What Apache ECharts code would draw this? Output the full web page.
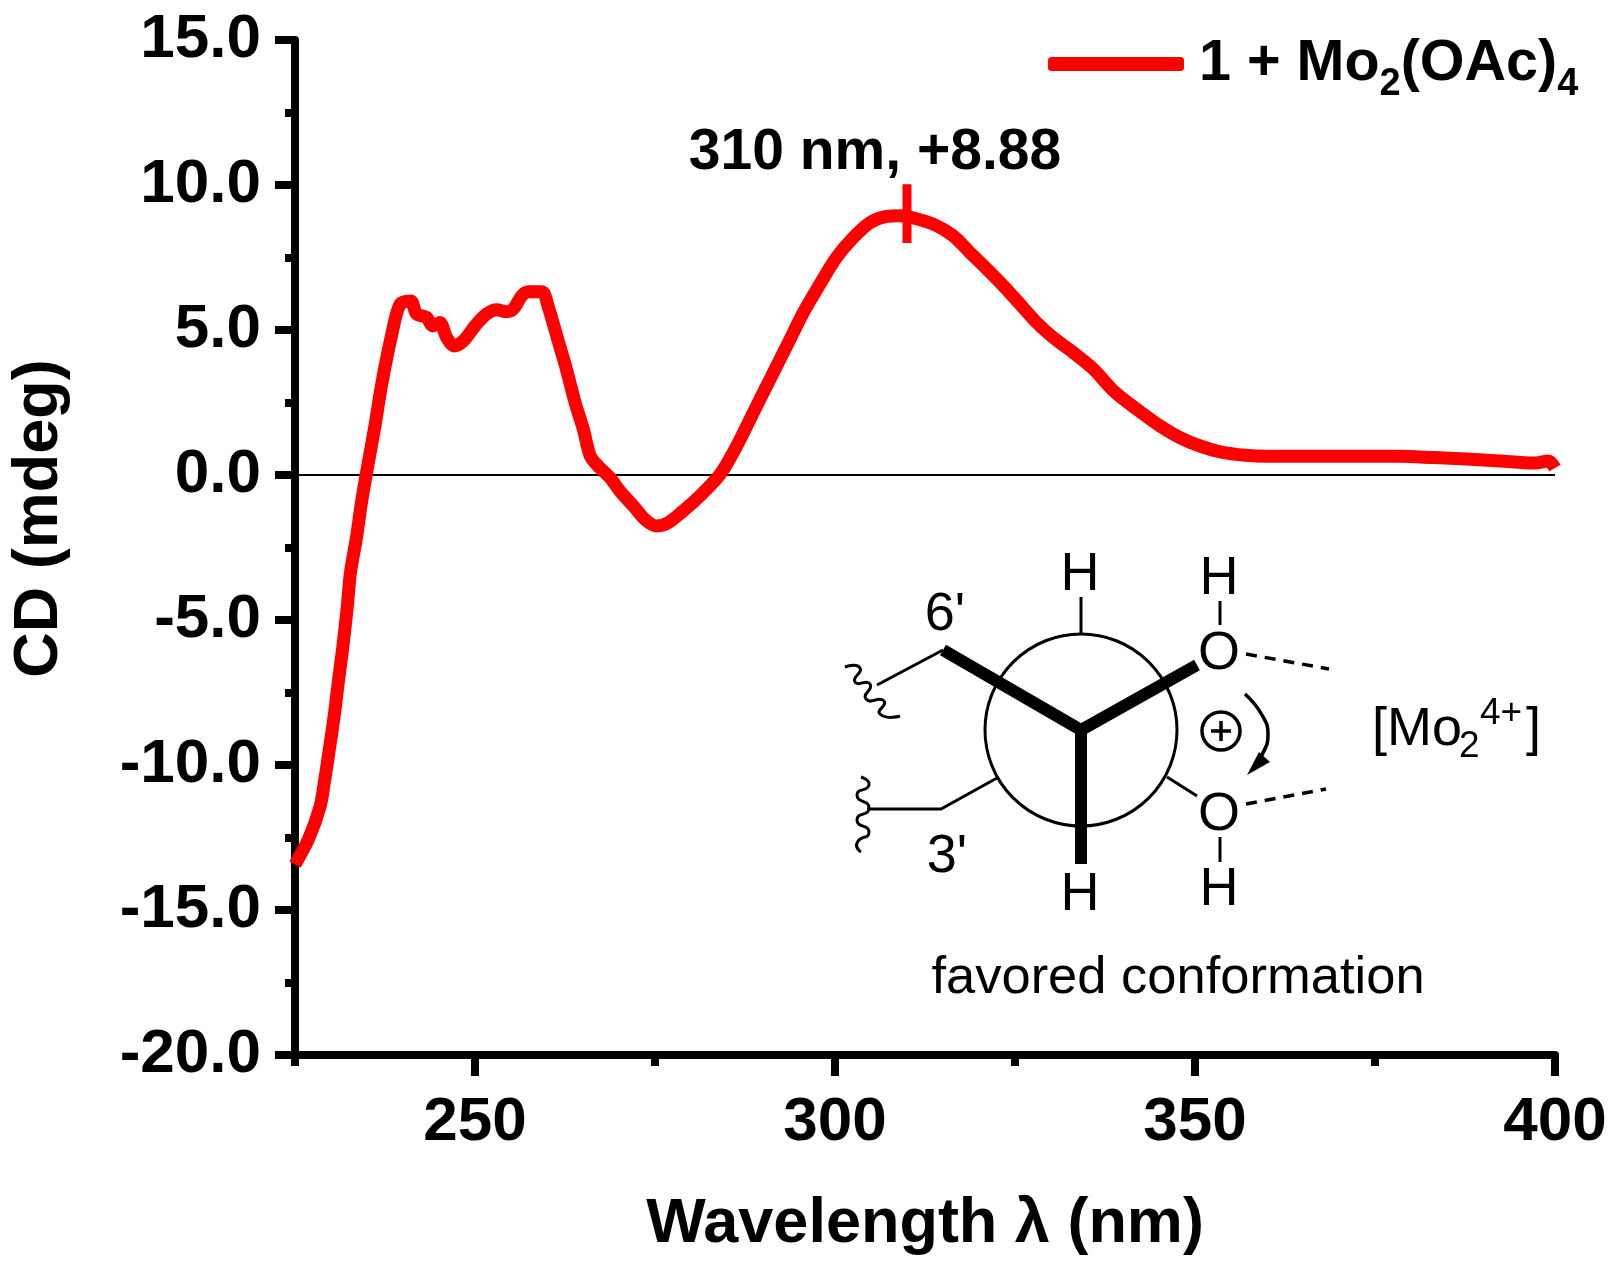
<!DOCTYPE html>
<html>
<head>
<meta charset="utf-8">
<title>CD spectrum</title>
<script src="https://cdn.jsdelivr.net/npm/echarts@6/dist/echarts.min.js"></script>
<style>
  html, body { margin: 0; padding: 0; background: #fff; }
  #chart { width: 1617px; height: 1271px; }
</style>
</head>
<body>
<div id="chart"></div>
<script>
// values
const wavelengths = [225, 226.85, 228.5, 229.1, 229.7, 230.5, 231.06, 231.66, 232.27, 232.7, 233.5, 234.2, 234.9, 236.1, 237, 238.4, 239.6, 241.07, 241.9, 243.3, 244.1, 245.1, 246.07, 247.1, 248.4, 250, 251.6, 253, 254.4, 255.3, 256.5, 257.4, 259.3, 260.2, 261.35, 262.7, 263.9, 265.05, 266, 267.1, 268.75, 270.1, 272, 273.6, 275.2, 276.85, 278.9, 281.25, 284.03, 286.35, 288.66, 290.97, 293.3, 295.6, 297.9, 300.2, 302.55, 304.9, 307.2, 309, 310.65, 313.66, 316.4, 318.75, 321.1, 323.4, 325.7, 328, 330.3, 333.1, 335.9, 338.7, 341.9, 345.15, 347.9, 350.7, 353.5, 357, 360, 370, 378.5, 383.1, 387.7, 392.4, 397, 399.1, 400];
const cdValues = [-13.43, -12.57, -11.42, -10.56, -9.58, -8.2, -7.05, -5.9, -4.52, -3.37, -2.22, -1.0, 0.03, 1.69, 3.07, 4.8, 5.89, 6.0, 5.55, 5.43, 5.14, 5.26, 4.74, 4.45, 4.63, 5.14, 5.55, 5.7, 5.63, 5.72, 6.18, 6.32, 6.32, 5.78, 4.8, 3.65, 2.5, 1.58, 0.66, 0.31, -0.09, -0.55, -1.07, -1.53, -1.76, -1.64, -1.24, -0.72, 0.02, 1.0, 2.15, 3.3, 4.45, 5.6, 6.58, 7.5, 8.19, 8.71, 8.92, 8.94, 8.88, 8.65, 8.25, 7.67, 7.1, 6.52, 5.89, 5.26, 4.74, 4.22, 3.65, 2.9, 2.27, 1.69, 1.29, 1.0, 0.8, 0.68, 0.65, 0.65, 0.645, 0.6, 0.55, 0.48, 0.41, 0.48, 0.24];
const zeroLine = [[225, 0], [400, 0]];
const peakTick = [[310, 10.03], [310, 8]];
const xMajorTicks = [250, 300, 350, 400];
const xMinorTicks = [225, 275, 325, 375];
const seriesName = '1 + Mo2(OAc)4';

const SANS = '"Liberation Sans", Arial, sans-serif';
const chart = echarts.init(document.getElementById('chart'));

function txt(text, x, y, size, extra) {
  return {
    type: 'text', x: x, y: y, silent: true,
    style: Object.assign({
      text: text, font: size + 'px ' + SANS, fill: '#000',
      align: 'center', verticalAlign: 'middle'
    }, extra || {})
  };
}
function poly(points, width, extra, smooth) {
  return {
    type: 'polyline', silent: true,
    shape: { points: points, smooth: smooth || 0 },
    style: Object.assign({ fill: 'none', stroke: '#000', lineWidth: width }, extra || {})
  };
}

// Newman projection and the other notes on the picture
const notes = [
  txt('310 nm, +8.88', 875, 153, 57, { font: 'bold 57px ' + SANS }),
  { type: 'circle', silent: true, shape: { cx: 1081, cy: 730, r: 96 }, style: { fill: 'none', stroke: '#000', lineWidth: 3 } },
  poly([[943, 650], [1081, 730], [1197, 665]], 12, { lineJoin: 'miter' }),
  poly([[1081, 730], [1081, 864]], 12),
  poly([[943, 650], [877, 685]], 3),
  poly([[997, 778], [941, 809], [867, 809]], 3),
  poly([[1167, 777], [1197, 796]], 3),
  poly([[1081, 597], [1081, 633]], 3),
  poly([[1220, 601], [1220, 625]], 3),
  poly([[1220, 837], [1220, 862]], 3),
  poly([[845, 667], [860, 668], [855, 682], [870, 684], [866, 699], [884, 701], [880, 714], [900, 716]], 3, null, 0.7),
  poly([[861, 777], [869, 785], [857, 795], [869, 808], [857, 820], [869, 832], [857, 843], [861, 852]], 3, null, 0.7),
  poly([[1246, 654], [1329, 669]], 3.5, { lineDash: [11, 8] }),
  poly([[1246, 804], [1326, 789]], 3.5, { lineDash: [11, 8] }),
  poly([[1245, 694], [1262, 715], [1268, 735], [1262, 755], [1252, 770]], 3.5, null, 0.5),
  { type: 'polygon', silent: true, shape: { points: [[1247, 775], [1270, 762], [1259, 752]] }, style: { fill: '#000' } },
  { type: 'circle', silent: true, shape: { cx: 1221, cy: 731, r: 19 }, style: { fill: 'none', stroke: '#000', lineWidth: 3.5 } },
  poly([[1211, 731], [1231, 731]], 3.5),
  poly([[1221, 721], [1221, 741]], 3.5),
  txt('H', 1080, 575, 54),
  txt('H', 1080, 895, 54),
  txt('H', 1219, 579, 54),
  txt('H', 1219, 890, 54),
  txt('O', 1219, 654, 54),
  txt('O', 1219, 815, 54),
  txt("6'", 945, 615, 54),
  txt("3'", 947, 857, 54),
  txt('[Mo', 1372, 757, 54, { align: 'left', verticalAlign: 'bottom' }),
  txt('2', 1459, 765, 37, { align: 'left', verticalAlign: 'bottom' }),
  txt('4+', 1480, 732, 37, { align: 'left', verticalAlign: 'bottom' }),
  txt(']', 1526, 757, 54, { align: 'left', verticalAlign: 'bottom' }),
  txt('favored conformation', 1178, 979, 52.5)
];

const axisFont = { fontFamily: SANS, fontWeight: 'bold', color: '#000' };
const option = {
  animation: false,
  backgroundColor: '#fff',
  grid: { left: 295, right: 62, top: 40, bottom: 216, outerBoundsMode: 'none' },
  legend: {
    data: [seriesName],
    top: 30, left: 1043,
    icon: 'roundRect',
    itemWidth: 136, itemHeight: 14, itemGap: 0,
    formatter: () => '{p|}{b|1 + Mo}{s|2}{b|(OAc)}{s|4}',
    textStyle: {
      rich: {
        p: { width: 10 },
        b: { fontFamily: SANS, fontWeight: 'bold', fontSize: 57.5, color: '#000' },
        s: { fontFamily: SANS, fontWeight: 'bold', fontSize: 38, color: '#000', verticalAlign: 'bottom', padding: [42, 0, 0, 0] }
      }
    }
  },
  xAxis: [{
    type: 'value', min: 225, max: 400,
    name: 'Wavelength λ (nm)', nameLocation: 'middle', nameGap: 138,
    nameTextStyle: Object.assign({ fontSize: 63 }, axisFont),
    splitLine: { show: false },
    axisLine: { onZero: false, lineStyle: { color: '#000', width: 8 } },
    axisTick: { customValues: xMajorTicks, length: 21, lineStyle: { color: '#000', width: 8 } },
    axisLabel: Object.assign({ customValues: xMajorTicks, fontSize: 62, margin: 37 }, axisFont)
  }, {
    type: 'value', min: 225, max: 400, position: 'bottom',
    splitLine: { show: false },
    axisLine: { onZero: false, show: false },
    axisTick: { customValues: xMinorTicks, length: 11, lineStyle: { color: '#000', width: 8 } },
    axisLabel: { show: false }
  }],
  yAxis: {
    type: 'value', min: -20, max: 15, interval: 5,
    name: 'CD (mdeg)', nameLocation: 'middle', nameGap: 224, nameRotate: 90,
    nameTextStyle: Object.assign({ fontSize: 63, padding: [0, 0, 0, 58] }, axisFont),
    splitLine: { show: false },
    minorSplitLine: { show: false },
    axisLine: { lineStyle: { color: '#000', width: 8 } },
    axisTick: { length: 20, lineStyle: { color: '#000', width: 8 } },
    minorTick: { show: true, splitNumber: 2, length: 10, lineStyle: { color: '#000', width: 8 } },
    axisLabel: Object.assign({ fontSize: 62, margin: 34, formatter: v => v.toFixed(1) }, axisFont)
  },
  series: [{
    name: 'zero',
    type: 'line', data: zeroLine, showSymbol: false, z: 1,
    lineStyle: { color: '#000', width: 2 }
  }, {
    name: seriesName,
    type: 'line',
    data: wavelengths.map((w, i) => [w, cdValues[i]]),
    showSymbol: false, smooth: 0.3, clip: true, z: 3,
    itemStyle: { color: '#ff0000' },
    lineStyle: { color: '#ff0000', width: 13, cap: 'butt', join: 'round' }
  }, {
    name: 'peak',
    type: 'line', data: peakTick, showSymbol: false, z: 4,
    lineStyle: { color: '#ff0000', width: 9 }
  }],
  graphic: notes
};
chart.setOption(option);
</script>
</body>
</html>
